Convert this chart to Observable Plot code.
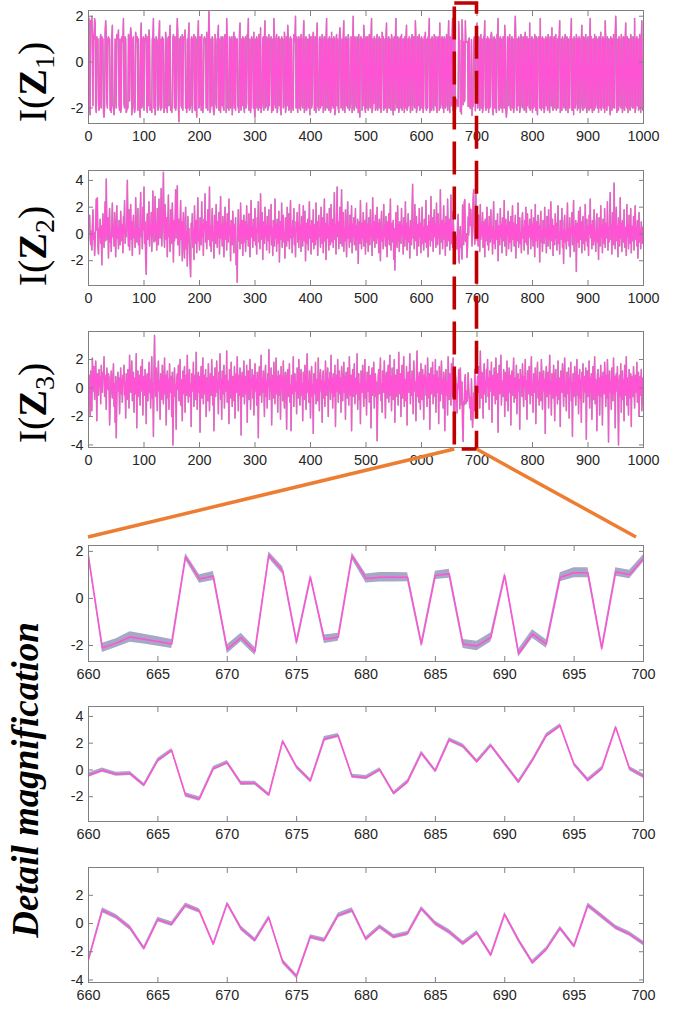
<!DOCTYPE html>
<html><head><meta charset="utf-8">
<script src="https://cdn.jsdelivr.net/npm/d3@7"></script>
<script src="https://cdn.jsdelivr.net/npm/@observablehq/plot@0.6"></script>
<style>
html,body{margin:0;padding:0;background:#fff;}
#wrap{position:relative;width:686px;height:1013px;overflow:hidden;background:#fff;}
#wrap > svg{position:absolute;left:0;margin:0;}
</style></head><body><div id="wrap"></div>
<script>
// ---------------- DATA ----------------
const xTicksFull = [0,100,200,300,400,500,600,700,800,900,1000];
const xTicksDetail = [660,665,670,675,680,685,690,695,700];
const yTicks1 = [-2,0,2];
const yTicks2 = [-2,0,2,4];
const yTicks3 = [-4,-2,0,2];
const yDomain1 = [-2.68, 2.25];
const yDomain2 = [-3.85, 4.74];
const yDomain3 = [-4.18, 3.97];
const seriesLabels = ["1","2","3"];
const detailLabel = "Detail magnification";

// Z1 : samples 1..659
const z1a = [
1.9,-2.1,-2.3,1.8,1.6,2.0,1.1,-1.9,1.2,1.0,1.9,1.7,-2.0,-2.2,1.1,0.9,1.0,-1.8,-2.1,-1.9,
1.0,1.2,-2.0,1.1,0.9,1.0,-2.2,-2.4,-1.9,1.3,1.8,1.1,-1.7,-2.0,1.0,1.1,0.8,1.0,-2.1,-1.8,
-2.2,1.1,1.6,-1.9,-2.0,-2.3,-1.8,1.0,0.9,-2.0,1.2,1.1,1.0,1.4,-1.9,-2.1,1.0,-2.2,-2.0,1.1,
0.9,1.0,1.9,-1.8,-2.0,1.1,1.0,-2.2,-2.1,-1.9,-2.0,1.2,0.8,-1.7,1.0,1.5,1.1,-2.3,-2.0,1.0,
1.1,-1.9,-2.2,-2.0,1.3,1.0,0.9,1.1,-2.1,1.0,-1.8,-2.0,-2.4,1.2,1.7,-2.0,-1.9,1.0,1.1,-2.1,
1.0,0.9,1.2,1.0,-2.0,-2.2,1.1,-1.9,1.4,1.0,-2.1,-2.0,-1.8,-2.2,1.0,1.1,1.9,-2.0,1.0,-2.3,
-1.9,1.1,1.0,0.9,-2.1,-2.0,1.2,1.8,-1.8,-2.1,1.0,-2.0,1.1,1.0,1.0,-2.2,-1.9,-2.0,1.3,0.9,
-2.0,-2.2,1.0,1.1,-1.9,1.0,1.6,-2.1,-2.0,-2.2,-1.8,1.0,1.2,0.9,-2.0,1.1,-2.1,-1.9,1.0,1.9,
1.1,-2.0,-2.6,1.0,0.8,1.1,-1.9,-2.0,1.2,-2.1,1.0,1.1,1.0,1.4,-2.0,-1.8,-2.2,1.0,-2.0,1.1,
1.7,-2.1,-2.0,-1.9,1.0,1.1,-2.2,1.0,0.9,1.2,-2.0,-2.1,1.1,-1.9,-2.4,1.0,1.0,1.8,-2.0,-1.9,
1.1,1.0,-2.1,1.2,-2.0,-2.2,-1.8,1.0,1.1,0.9,1.0,-2.0,1.3,-1.9,-2.1,1.0,2.2,1.1,-2.2,-2.0,
1.0,-1.9,1.1,1.0,-2.1,-2.3,-2.0,1.2,0.9,-1.8,-2.0,1.0,1.1,1.6,-2.1,1.0,-2.0,-2.2,1.1,1.0,
-1.9,1.1,-2.0,-2.1,1.0,1.2,1.0,-2.2,1.9,1.0,-2.0,-1.9,-2.1,1.1,0.8,-2.0,1.0,1.1,-2.3,-1.8,
1.0,1.3,-2.0,1.1,-2.1,1.0,0.9,1.0,-1.9,-2.0,-2.2,1.2,1.7,-2.0,-2.1,1.0,-1.9,1.1,1.0,-2.0,
-2.2,1.0,1.1,-2.0,-1.8,1.2,1.0,1.9,-2.1,-2.0,1.0,-2.2,-1.9,1.1,1.0,0.9,-2.0,1.3,-2.1,-2.4,
1.0,-2.0,1.1,1.0,-1.9,-2.1,1.2,1.0,-2.0,1.5,-2.2,-2.0,-1.8,1.0,1.1,-2.1,1.0,1.8,-2.0,-1.9,
1.1,1.0,-2.1,-2.0,1.2,-1.9,1.0,0.9,1.1,-2.2,-2.0,1.0,-2.1,1.9,1.1,-1.8,-2.0,1.0,1.2,-2.2,
-2.0,1.0,1.1,-1.9,1.0,-2.1,-2.3,1.1,1.0,1.0,-2.0,-1.9,1.3,1.0,-2.2,-2.0,1.1,-1.9,1.6,1.0,
-2.1,-2.0,1.0,1.1,-2.2,1.0,-1.9,-2.0,-2.1,1.2,0.9,1.0,2.0,-2.0,1.1,-1.8,-2.2,1.0,1.1,-2.0,
1.0,-2.1,1.2,1.0,-1.9,-2.0,1.1,1.8,-2.2,-2.0,1.0,1.1,-2.1,-1.9,1.0,0.9,-2.0,1.2,-2.3,1.0,
1.1,-2.0,-1.8,1.0,1.3,1.0,-2.1,-2.0,1.1,-2.2,1.0,1.7,-1.9,-2.0,-2.1,1.0,1.1,-2.0,1.0,-1.9,
1.2,1.0,-2.2,-2.0,1.1,0.9,-2.1,1.0,1.9,-2.0,-1.8,1.0,-2.1,1.1,1.0,-2.2,-2.0,1.3,-1.9,1.0,
-2.0,1.1,1.0,-2.3,-2.1,1.0,1.2,-1.9,1.0,-2.0,-2.2,1.1,1.5,1.0,-2.0,-1.9,1.0,-2.1,1.1,1.8,
-2.0,-2.2,1.0,1.1,-1.9,1.0,-2.0,1.2,1.0,-2.1,-2.0,-1.8,1.1,1.0,-2.2,1.0,2.0,-2.0,-2.1,1.1,
1.0,-1.9,-2.0,1.1,1.0,-2.2,1.2,-2.0,-2.4,1.0,1.1,0.9,-2.1,1.0,-1.9,1.6,1.0,-2.0,-2.2,1.1,
-2.0,1.0,1.1,-2.1,-1.9,1.2,1.0,-2.0,1.1,1.9,-2.2,-2.0,1.0,-1.8,1.1,1.0,-2.1,-2.0,1.0,1.2,
-2.1,-1.9,1.0,1.1,-2.0,1.0,-2.2,-2.0,1.3,1.0,1.1,-2.1,-1.9,1.0,-2.0,1.1,1.7,-2.2,-2.0,1.0,
1.1,-2.0,1.0,-1.9,-2.1,1.2,1.0,-2.0,-2.3,1.0,1.1,-2.1,1.0,1.9,-1.8,-2.0,1.1,1.0,-2.2,-2.0,
1.0,1.1,-2.0,1.2,-2.1,-1.9,1.0,1.0,-2.2,1.1,-2.0,1.0,1.6,-2.1,-2.0,1.0,-1.9,1.1,1.0,-2.2,
-2.0,1.0,1.2,-2.1,1.0,1.1,-1.9,-2.0,1.8,1.0,-2.2,-2.0,1.1,-1.9,1.0,1.2,-2.1,-2.0,1.0,1.1,
-2.0,1.0,-2.2,-1.9,1.1,1.0,1.3,-2.0,-2.1,1.0,-2.0,1.1,1.0,1.9,-2.2,-1.9,1.0,-2.1,1.1,1.0,
-2.0,-2.1,1.2,1.0,-1.9,1.1,-2.0,-2.2,1.0,1.1,1.0,-2.1,1.7,-2.0,-1.8,1.0,1.1,-2.0,1.0,-2.2,
1.1,1.0,-2.0,-1.9,1.2,1.0,-2.1,1.0,1.8,-2.0,-2.2,1.1,1.0,-1.9,1.0,1.9,-2.1,-2.0,1.1
];
// Z1 : samples 660..700 (detail window)
const z1d = [1.8,-2.1,-1.9,-1.64,-1.73,-1.83,-1.94,1.77,0.83,0.95,-2.16,-1.66,-2.26,1.84,1.19,-1.86,0.9,-1.73,-1.65,1.8,0.85,0.9,0.9,0.9,-1.94,0.98,1.05,-1.94,-2.02,-1.66,0.98,-2.33,-1.51,-1.94,0.9,1.09,1.09,-2.12,1.12,1.02,1.7];
const z1s = [0.14,0.20,0.19,0.22,0.21,0.20,0.19,0.14,0.18,0.19,0.19,0.18,0.17,0.14,0.16,0.16,0.12,0.18,0.17,0.14,0.19,0.20,0.20,0.19,0.16,0.18,0.19,0.19,0.20,0.19,0.12,0.17,0.18,0.18,0.19,0.21,0.21,0.16,0.18,0.18,0.16];
// Z1 : samples 701..1000
const z1b = [
-2.0,1.0,1.1,-1.9,-2.1,1.0,1.2,-2.0,1.0,-2.2,-2.0,1.1,1.0,1.8,-1.9,-2.1,1.0,-2.0,1.1,1.0,
-2.2,1.0,-2.0,-1.9,1.1,1.3,1.0,-2.1,-2.3,1.0,1.1,-2.0,1.0,-1.9,-2.2,1.2,1.0,1.9,-2.0,-2.1,
1.0,1.1,-2.0,1.0,-1.8,-2.2,1.1,1.0,-2.0,1.6,1.0,-2.1,-2.4,-2.0,1.1,1.0,-1.9,1.0,1.2,-2.0,
-2.1,1.0,1.1,-2.0,1.0,-2.2,-1.9,1.1,2.0,1.0,-2.0,-2.1,1.0,-1.9,1.1,1.0,-2.2,-2.0,1.2,1.0,
-1.9,-2.0,1.1,1.0,-2.1,1.0,1.3,-2.0,-2.2,1.1,-1.9,1.0,1.0,-2.0,1.7,-2.1,-2.0,1.0,1.1,-2.2,
1.0,-2.0,-1.9,1.2,1.0,-2.1,1.1,-2.0,-2.3,1.0,1.1,1.0,-2.0,1.9,-1.8,-2.1,1.0,1.1,-2.0,1.0,
-2.2,-2.0,1.0,1.1,-1.9,1.0,-2.1,1.2,1.0,-2.0,-2.2,1.1,1.0,-1.9,1.5,-2.0,-2.1,1.0,1.1,-2.0,
1.0,1.2,-2.1,-1.9,1.0,-2.0,1.1,1.0,1.8,-2.2,-2.0,1.0,-2.1,1.1,1.0,-1.9,-2.0,1.0,1.2,-2.1,
-2.0,1.1,1.0,-2.2,1.0,-1.9,-2.0,1.1,1.0,1.9,-2.1,-2.0,1.0,-2.3,1.1,1.0,-2.0,-1.8,1.2,1.0,
-2.1,1.0,-2.0,1.1,1.0,-2.2,-1.9,1.0,1.6,-2.0,-2.1,1.1,1.0,-2.0,1.0,1.2,-1.9,-2.2,1.0,1.1,
-2.0,-2.1,1.0,1.9,-2.0,1.1,-1.9,-2.2,1.0,1.0,-2.1,1.2,-2.0,1.0,1.1,-1.8,-2.0,1.0,-2.2,1.1,
1.0,-2.0,1.3,-2.1,-1.9,1.0,1.1,-2.0,1.0,-2.2,1.8,1.0,-2.0,-2.1,1.1,-1.9,1.0,1.0,-2.0,-2.3,
1.1,1.0,-2.1,1.0,-2.0,1.2,-1.9,-2.0,1.1,2.0,1.0,-2.2,-2.0,1.0,-2.1,1.1,1.0,-1.9,-2.0,1.2,
1.0,-2.2,-2.0,1.1,1.0,-2.1,1.0,1.7,-1.9,-2.0,1.1,-2.2,1.0,1.0,-2.0,-2.1,1.2,1.0,-1.9,-2.0,
1.1,1.0,-2.0,1.9,-2.2,-2.0,1.0,1.1,-1.9,1.0,-2.1,-2.0,1.2,1.0,-2.2,1.0,1.8,-2.0,-2.1,-2.0
];

// Z2 : samples 1..659
const z2a = [
0.9,1.4,-0.3,-0.8,0.2,-1.2,0.5,1.8,-0.4,0.1,-1.6,-0.6,0.8,2.6,0.3,2.7,-0.9,-1.5,0.4,-0.2,
1.1,-0.7,0.6,-2.3,-0.1,1.5,0.2,-1.0,0.7,2.4,-0.5,4.1,0.9,-0.4,1.2,-1.8,0.3,1.9,-0.6,0.0,
-1.3,0.8,2.3,-0.2,0.5,-0.9,1.6,0.1,-1.7,0.6,2.1,-0.3,0.4,-1.1,1.0,0.2,-0.8,1.7,0.3,-0.5,
0.7,-1.4,1.3,0.0,2.5,-0.7,0.4,-0.2,1.1,4.0,0.6,-0.9,1.8,-1.2,0.3,2.2,-0.4,0.9,-1.6,0.5,
1.4,-0.3,0.2,-1.0,2.7,0.8,-0.6,0.1,1.9,-0.8,0.4,-1.5,1.2,3.1,-0.2,0.6,-1.1,2.0,0.3,3.5,
-0.7,0.9,-1.9,-3.0,0.4,1.5,-0.4,0.2,2.4,-0.9,0.7,-0.1,1.6,-1.3,0.5,3.2,0.0,-0.6,1.1,2.8,
-0.5,0.8,-1.2,1.9,0.3,-0.8,2.6,0.6,-0.3,1.3,3.4,-0.9,0.5,1.7,4.6,0.2,-1.0,2.2,0.9,-0.4,
1.2,-1.7,0.6,2.9,-0.2,0.4,-1.3,1.8,0.1,-0.7,2.3,0.5,-2.1,1.0,-0.5,0.7,3.3,-0.3,1.4,3.6,
-0.8,0.2,1.1,-1.6,0.5,2.5,-0.4,0.9,-2.0,0.3,1.6,-0.9,-1.8,0.6,2.0,-1.1,0.2,-2.4,1.3,-0.6,
0.4,-1.5,-2.2,-3.2,0.8,-0.3,1.5,-1.0,0.3,-1.9,2.1,0.0,-0.7,1.0,-1.4,0.6,2.7,-0.5,0.2,-1.2,
1.2,0.3,-0.8,2.4,-0.2,0.7,-1.6,1.1,0.4,3.0,-0.6,0.9,-1.1,0.2,1.8,-0.4,0.5,3.5,-0.9,0.6,
-1.3,0.8,1.9,-0.5,0.1,-1.8,1.4,0.3,-0.7,2.2,0.5,-1.0,0.9,-0.2,1.6,-1.5,0.4,2.8,-0.3,0.7,
-0.9,1.3,0.0,-1.7,0.6,2.0,-0.4,0.8,-1.2,1.5,0.2,-0.6,2.6,-0.1,0.5,-2.0,1.0,0.3,-0.8,1.7,
0.1,-1.4,0.7,-0.3,1.2,-2.3,-1.0,-3.6,0.4,1.8,-0.5,0.6,-1.1,2.3,0.2,-0.7,1.0,-1.6,0.4,1.4,
-0.6,0.9,-1.3,0.3,2.1,-0.4,0.6,-0.9,1.5,0.0,-1.7,0.8,2.5,-0.2,0.5,-1.0,1.1,-0.5,0.3,1.9,
-0.8,0.4,-1.5,1.2,0.1,2.4,-0.6,0.7,-1.1,3.0,0.3,-0.4,1.6,-1.9,0.5,0.9,-0.7,2.0,-0.2,0.6,
-1.2,1.3,0.2,-0.5,1.8,-1.4,0.6,0.0,2.2,-0.8,0.4,-1.6,1.0,0.3,-0.9,2.6,-0.3,0.7,-1.3,1.1,
0.5,-0.7,1.7,-2.1,0.2,0.9,-0.4,2.3,-1.0,0.6,1.4,-0.6,0.1,-1.8,1.2,0.4,-0.9,2.0,0.3,-0.5,
1.5,-1.1,0.7,2.5,-0.3,0.5,-1.4,1.0,-0.2,1.9,-0.8,0.4,-1.7,0.9,0.2,1.6,-0.6,0.8,-1.0,2.2,
-0.4,0.6,-1.3,1.3,0.0,-0.9,2.1,0.5,-0.5,1.7,-2.0,0.3,0.8,-0.7,1.1,-1.2,0.4,2.4,-0.3,0.6,
-1.5,1.0,0.2,-0.6,1.8,-1.1,0.7,0.1,-0.8,2.3,-0.4,0.9,-1.6,0.5,1.4,-0.2,0.3,-1.0,2.0,0.6,
-0.7,1.2,-1.4,0.4,2.6,-0.5,0.8,-1.9,0.2,1.5,-0.3,0.6,-1.2,1.9,0.0,-0.8,2.2,0.4,-0.6,1.1,
-1.0,0.5,3.1,-0.4,0.7,-1.5,1.3,3.5,-0.2,0.9,-1.1,0.3,2.0,-0.7,0.6,3.3,-0.9,0.2,1.6,-1.3,
0.4,-0.5,1.8,0.1,-1.7,0.8,2.4,-0.3,0.5,-1.0,1.4,-0.6,0.2,2.1,-1.4,0.7,-0.2,1.2,-0.8,0.3,
1.9,-1.2,0.6,-0.4,1.1,-2.2,0.3,0.9,-0.7,2.5,0.0,-1.1,0.8,-0.3,1.6,-0.9,0.4,1.0,-1.5,0.2,
2.3,-0.6,0.7,-1.3,1.2,0.1,-0.8,1.8,-0.2,0.5,-1.6,2.7,0.3,-0.5,0.9,-1.0,1.4,0.0,-0.7,2.0,
-0.3,0.8,-1.4,1.1,0.4,-2.0,0.6,1.7,-0.5,0.2,-1.1,2.2,-0.2,0.7,-0.9,1.3,0.3,-1.7,0.9,-0.4,
1.5,-0.8,0.5,2.6,-1.2,0.1,0.8,-0.6,1.0,-1.9,0.4,-2.7,-0.3,1.6,0.2,-1.0,2.1,-0.5,0.7,-1.3,
0.9,0.3,-0.7,1.9,-0.1,0.6,-1.5,1.2,0.4,-0.9,2.4,-0.4,0.8,-1.2,0.0,1.5,-0.6,0.5,-1.8,1.0,
0.2,-0.8,1.7,3.7,-0.3,0.6,-1.1,2.2,0.1,-0.5,1.3,-1.6,0.7,0.3,-0.9,1.9,-0.2,0.8,-1.4,0.4,
2.0,-0.7,0.5,-1.2,1.1,0.0,-0.6,2.5,-1.0,0.6,0.2,-1.7,1.4,-0.4,0.9,-0.9,2.8,0.3,-0.5,1.2,
-1.3,0.4,1.8,-0.2,0.7,-1.0,2.3,0.1,-0.8,1.5,-0.3,0.6,-1.5,3.3,0.2,-0.6,1.0,-1.1,0.5,2.1,
-0.4,0.8,-1.6,1.3,0.0,-0.9,2.6,0.4,-0.5,1.1,-1.2,0.3,2.9,-0.7,0.6,-1.0,1.7,0.2,-0.3
];
const z2d = [-0.39,-0.02,-0.32,-0.27,-1.13,0.72,1.46,-1.87,-2.17,0.1,0.55,-1.0,-1.0,-1.87,2.15,0.22,-0.81,2.32,2.57,-0.47,-0.57,0.02,-1.75,-0.89,1.26,-0.07,2.25,1.78,0.64,1.83,0.47,-0.89,0.72,2.57,3.31,0.42,-0.76,0.1,3.19,0.1,-0.47];
const z2s = [0.17,0.16,0.15,0.15,0.14,0.16,0.15,0.17,0.16,0.15,0.15,0.16,0.15,0.14,0.13,0.15,0.15,0.17,0.16,0.15,0.16,0.15,0.14,0.15,0.15,0.14,0.15,0.16,0.15,0.14,0.15,0.15,0.14,0.16,0.15,0.15,0.16,0.15,0.13,0.16,0.17];
const z2b = [
0.5,-0.9,1.4,0.2,-1.3,2.2,-0.4,0.7,-0.1,1.6,-1.0,0.3,0.9,-1.7,1.1,-0.5,0.4,2.0,-0.8,0.6,
-1.2,1.3,0.0,-0.6,1.8,-0.3,0.5,-1.5,0.8,2.4,-0.7,0.2,-1.1,1.0,0.4,-0.4,1.5,-2.0,0.6,0.1,
-0.8,1.9,-0.2,0.7,-1.4,1.2,0.3,-0.5,2.5,-0.9,0.4,1.1,-1.6,0.6,-0.1,1.7,-1.1,0.2,0.9,-0.6,
1.3,-1.3,0.5,2.1,-0.4,0.8,-0.9,0.0,1.4,-1.8,0.3,0.7,-0.5,2.3,-1.0,0.4,1.2,-0.7,0.1,-1.4,
0.9,1.6,-0.3,0.5,-1.2,1.0,-0.6,2.0,0.2,-0.8,1.5,-1.5,0.6,-0.2,1.1,0.3,-1.1,1.8,-0.4,0.7,
-0.9,1.2,0.1,-1.7,2.2,-0.5,0.4,0.9,-1.0,1.4,-0.3,0.6,-2.1,0.8,1.7,-0.6,0.2,-1.3,1.0,0.5,
-0.7,2.0,-0.2,0.3,-1.4,1.3,0.7,-0.9,1.8,-0.4,0.5,-1.1,2.4,0.0,-0.5,1.1,-1.6,0.6,0.2,-0.8,
1.5,-0.3,0.8,-1.2,0.4,2.1,-0.7,0.1,-1.5,1.0,0.6,-0.4,1.9,-1.0,0.3,-2.2,0.9,1.4,-0.6,0.2,
-1.1,0.7,2.3,-0.5,0.4,-0.9,1.2,-1.7,0.5,0.0,1.6,-0.8,0.3,2.5,-1.3,0.6,-0.2,1.0,-2.8,0.4,
0.8,-0.6,1.7,-1.0,0.2,2.0,-0.4,0.9,-1.4,0.5,1.3,-0.7,0.1,-1.2,2.2,0.3,-0.5,1.1,-0.9,0.6,
-1.6,1.4,0.0,2.6,-0.3,0.7,-1.1,1.0,0.4,-0.8,1.8,-0.5,0.2,-1.3,0.9,1.5,-0.6,0.3,-1.9,1.2,
0.5,-0.9,2.1,-0.2,0.6,-1.4,1.1,0.1,-0.7,1.9,-1.0,0.4,0.8,-0.3,2.4,-1.2,0.5,-0.6,1.3,3.1,
-0.4,0.7,-1.5,1.6,0.2,-0.8,3.8,0.9,-1.1,0.3,2.0,-0.5,0.6,-1.7,1.2,0.0,-0.9,2.7,-0.3,0.8,
-1.3,1.0,0.4,-0.6,1.8,-1.0,0.5,0.1,-1.6,2.2,-0.2,0.7,-1.1,1.4,0.3,-0.7,1.9,-1.4,0.6,0.2,
-0.5,1.3,-1.2,0.8,2.1,-0.4,0.5,-0.9,1.0,-1.8,0.3,1.6,-0.6,0.4,-1.1,0.9,0.2,-0.7,0.5,-0.4
];

// Z3 : samples 1..659
const z3a = [
0.9,-0.4,-2.0,1.2,0.3,-1.6,2.1,0.6,-0.2,1.5,-0.8,0.4,1.9,0.2,-2.3,1.0,0.7,-0.5,1.3,0.1,
0.8,-1.1,1.6,0.4,-0.3,1.1,0.6,2.2,-0.6,0.9,0.3,-1.5,1.4,0.5,-0.1,1.0,0.7,-2.6,-1.2,0.4,
1.2,0.0,-0.7,0.6,1.7,-1.3,0.3,-2.4,0.8,-3.5,-0.9,0.5,1.1,-0.2,0.7,-1.8,0.2,1.4,-0.4,0.6,
-1.0,0.9,0.3,1.6,-0.5,0.4,-2.1,1.0,0.2,-0.8,1.3,0.6,-1.4,2.3,0.1,-0.3,0.8,1.9,-0.9,0.5,
1.1,-1.7,0.4,0.7,-0.4,2.4,-2.8,0.3,1.2,-0.6,0.9,0.1,-1.2,1.5,0.5,-0.2,2.0,-1.9,0.6,0.8,
-0.5,1.3,0.2,-2.5,0.7,1.0,-0.9,0.4,1.8,-0.3,0.6,-1.4,0.9,2.2,-0.7,0.3,-3.4,1.1,3.7,0.5,
-0.6,1.4,0.0,-1.6,0.8,1.9,-0.2,0.5,-2.2,1.0,0.3,-0.8,1.6,0.7,-1.1,0.2,2.1,-0.4,0.9,-2.6,
0.4,1.2,-0.7,0.6,-1.5,1.7,0.1,-0.3,0.8,-2.0,1.1,-4.0,-1.3,0.5,1.4,-0.6,0.2,-2.9,0.7,1.0,
-0.1,1.6,-0.9,0.4,2.0,-1.2,0.6,0.3,-2.3,1.2,-0.4,0.8,1.5,-1.7,0.2,0.9,-0.5,2.3,0.1,-1.0,
0.7,1.3,-0.6,0.3,-2.7,1.0,0.5,-0.2,1.8,-1.3,0.4,0.9,-0.8,2.5,0.0,-1.5,0.6,1.1,-0.3,0.8,
-3.1,0.4,1.5,-0.7,0.2,2.1,-1.1,0.6,0.9,-0.4,1.3,-2.0,0.3,0.7,-0.9,1.7,0.5,-1.6,0.1,1.0,
-0.5,2.0,0.4,-1.2,0.8,-3.0,0.2,1.4,-0.6,0.7,1.9,-0.3,0.5,-1.8,1.1,0.0,2.4,-0.8,0.6,-2.2,
1.2,0.3,-0.4,1.6,-1.4,0.7,0.9,-0.2,2.6,-1.0,0.5,0.1,-2.5,1.3,0.6,-0.7,1.8,0.2,-1.3,0.8,
0.4,-0.9,1.5,-2.1,0.6,1.0,-0.3,2.2,0.1,-1.6,0.9,-0.5,1.4,0.3,-3.3,0.7,1.1,-0.6,0.5,1.9,
-1.1,0.2,0.8,-0.4,1.6,-2.4,0.5,1.2,-0.8,0.3,2.0,-1.5,0.6,0.0,1.3,-0.7,0.9,-1.9,0.4,1.7,
-0.2,0.6,-1.2,1.1,0.3,-3.5,0.8,1.5,-0.5,0.2,2.3,-1.0,0.7,-0.3,1.2,0.4,-2.0,0.9,1.6,-0.6,
0.5,-1.4,1.0,0.1,2.7,-0.8,0.6,-0.2,1.4,-2.6,0.3,0.9,-0.7,1.8,0.2,-1.1,0.5,2.1,-0.4,0.8,
-1.7,1.2,0.4,-0.5,0.9,-2.2,1.5,0.0,0.7,-0.9,1.9,0.3,-1.4,0.6,1.1,-0.3,-2.9,0.8,1.3,-0.6,
0.4,1.7,-1.0,0.2,-3.0,0.9,0.5,-0.4,2.2,-1.3,0.7,1.0,-0.2,0.4,-1.8,1.4,0.6,-0.7,2.0,0.1,
-1.2,0.8,1.3,-0.5,0.3,-2.3,1.1,0.6,-0.8,1.6,0.2,-1.5,0.9,2.4,-0.3,0.5,-1.0,1.2,0.4,-2.1,
0.7,1.5,-0.6,0.2,-3.2,1.0,0.8,-0.4,1.8,-1.1,0.3,0.6,-0.9,2.1,0.1,-1.6,0.7,1.3,-0.2,0.5,
-2.4,0.9,1.2,-0.7,0.4,-1.3,1.9,0.2,-0.5,0.8,1.4,-2.0,0.6,0.0,1.1,-0.8,2.3,-0.3,0.7,-1.4,
1.0,0.3,-0.6,1.6,-2.7,0.5,0.9,-0.2,2.0,-1.0,0.4,1.2,-0.4,0.7,-1.7,1.5,0.1,-0.9,0.6,1.8,
-0.3,0.8,-2.2,1.1,0.4,-0.7,1.4,0.2,-1.2,2.2,0.6,-0.5,0.9,-3.0,0.3,1.3,-0.6,0.5,1.7,-1.1,
0.2,0.7,-0.4,2.4,-1.5,0.6,1.0,-0.8,0.3,-2.5,1.2,0.5,-0.3,1.6,0.0,-1.3,0.8,2.0,-0.7,0.4,
-1.9,1.1,0.6,-0.2,1.5,-1.0,0.3,0.9,-2.8,0.7,1.4,-0.5,0.2,1.8,-1.4,0.5,1.0,-0.6,0.4,-3.7,
-1.2,0.8,1.3,-0.4,0.6,2.1,-0.9,0.3,-1.7,1.2,0.5,-0.3,1.9,0.1,-2.1,0.7,1.1,-0.7,0.4,1.6,
-1.0,0.2,2.3,-0.5,0.8,-1.6,1.4,0.3,-0.8,0.6,2.0,-2.4,0.9,0.0,-0.6,1.3,0.5,-1.2,2.5,0.2,
-0.4,1.0,-2.0,0.7,1.6,-0.7,0.4,2.2,-1.3,0.6,0.1,-0.9,1.5,-2.6,0.8,1.1,-0.3,0.5,2.4,-1.1,
0.6,-0.5,1.2,0.3,-1.8,1.9,0.7,-0.2,0.4,-2.3,1.4,2.6,-0.6,0.8,-1.0,1.1,0.2,-1.5,1.7,0.5,
-0.8,1.3,0.4,-2.2,0.9,0.1,1.6,-0.5,0.7,-1.3,2.1,0.3,-0.7,1.0,-2.9,0.6,1.4,-0.4,0.2,1.8,
-1.1,0.5,0.9,-0.6,2.0,-1.7,0.4,1.2,-0.3,0.7,-2.5,1.5,0.1,-0.9,0.8,1.9,-0.4,0.6,-1.4,1.1,
0.3,-3.0,0.7,1.3,-0.5,0.4,-1.9,2.2,0.6,-0.8,1.0,0.2,-1.2,1.7,0.5,-0.6,2.1,-2.0,0.4
];
const z3d = [-2.58,0.94,0.47,-0.31,-1.76,0.28,-0.05,1.29,0.89,-1.46,1.41,-0.35,-1.18,0.42,-2.7,-3.76,-0.94,-1.18,0.58,0.94,-1.1,-0.24,-0.94,-0.71,1.06,0.0,-0.59,-1.41,-0.66,-2.23,0.65,-1.18,-2.77,-1.83,-0.35,-1.6,1.29,0.51,-0.28,-0.75,-1.41];
const z3s = [0.16,0.18,0.17,0.17,0.15,0.16,0.17,0.17,0.16,0.14,0.14,0.17,0.16,0.14,0.17,0.16,0.15,0.16,0.17,0.17,0.16,0.15,0.16,0.15,0.15,0.16,0.17,0.16,0.15,0.14,0.14,0.16,0.16,0.15,0.15,0.15,0.17,0.17,0.16,0.16,0.16];
const z3b = [
0.8,-0.3,1.5,0.2,-1.4,2.6,0.6,-0.7,1.1,0.3,-2.1,0.9,1.7,-0.4,0.5,-1.0,1.3,0.1,2.0,-0.6,
0.7,-1.5,1.2,0.4,-0.2,1.8,-2.4,0.6,0.9,-0.5,1.4,0.2,-1.1,2.1,0.5,-0.8,1.0,-3.1,0.3,1.6,
-0.4,0.8,2.3,-1.2,0.5,0.1,-0.6,1.3,0.7,-2.0,1.1,0.4,-0.9,1.9,0.2,-1.6,0.6,1.4,-0.3,0.9,
-2.6,0.5,1.2,-0.5,0.8,2.1,-1.0,0.3,0.7,-0.7,1.6,-1.8,0.4,1.0,-0.2,0.6,-2.9,1.3,0.2,0.9,
-0.6,1.7,0.4,-1.3,0.8,0.1,2.0,-0.8,0.5,-2.2,1.2,0.6,-0.4,1.5,0.3,-1.1,0.9,2.2,-0.5,0.4,
-1.7,1.0,0.6,-0.3,1.4,-2.5,0.2,0.8,1.8,-0.7,0.5,-1.2,1.1,0.3,-0.9,2.0,0.7,-1.5,0.4,1.2,
-0.2,0.6,-3.2,0.9,1.5,-0.6,0.3,1.1,-1.4,0.7,2.3,-0.4,0.5,-1.9,1.0,0.2,-0.7,1.6,0.4,-2.3,
0.8,1.3,-0.5,0.6,-1.1,1.9,0.1,-0.8,0.7,-2.7,1.2,0.4,-0.3,1.7,0.5,-1.3,0.9,2.1,-0.6,0.3,
-1.6,1.1,0.6,-0.4,1.4,-2.1,0.7,0.2,1.8,-0.9,0.4,-3.4,1.0,0.5,-0.6,1.5,0.3,-1.2,0.8,2.0,
-0.5,0.9,-1.8,0.4,1.3,-0.7,0.6,-2.4,1.1,0.2,1.7,-1.0,0.5,0.8,-0.3,1.4,-3.6,0.6,1.2,-0.6,
0.3,1.9,-1.4,0.7,-0.2,1.0,-2.2,0.5,1.5,-0.8,0.4,2.2,-1.1,0.6,0.1,-3.0,0.9,1.3,-0.5,0.7,
-1.9,0.4,1.6,-0.6,0.8,-2.6,1.1,0.3,-0.4,1.8,0.6,-1.3,0.9,-0.7,2.0,0.2,-3.8,0.7,1.2,-0.3,
0.5,-1.5,1.4,0.1,-0.9,2.1,-0.4,0.8,-2.8,0.6,1.0,-0.2,1.5,-1.1,-4.0,0.4,0.9,-0.6,1.7,-1.7,
0.3,1.2,-0.8,0.6,-2.3,1.6,0.4,-0.5,2.2,-1.2,0.7,0.1,-1.9,1.3,0.5,-0.7,1.0,-2.7,0.8,0.4,
-0.6,1.5,0.2,-1.4,0.9,0.5,-0.3,1.8,-1.0,0.6,1.1,-2.0,0.4,0.8,-0.5,1.3,-1.6,0.7,0.2,-1.2
];

// ---------------- BUILD ----------------
function fullSeries(a, d, b) {
  const rows = [];
  a.forEach((v, i) => rows.push({x: 660 - a.length + i, v}));
  d.forEach((v, i) => rows.push({x: 660 + i, v}));
  b.forEach((v, i) => rows.push({x: 701 + i, v}));
  return rows;
}
function detailSeries(d, s) {
  return d.map((v, i) => ({x: 660 + i, v, lo: v - s[i], hi: v + s[i]}));
}

const PINK = "#ff52d4";
const GREY = "#a0a0a0";
const BAND = "#a7a7c6";
const AXIS = "#808080";
const TEXT = "#262626";
const W = 686, ML = 88, MR = 43, MT = 6, MB = 30;
const fmt = d => String(d);

const wrap = document.getElementById("wrap");

function makePanel({rows, detail, xDomain, xTicks, yDomain, yTicks, h, top}) {
  const marks = [];
  if (detail) {
    marks.push(Plot.areaY(rows, {x: "x", y1: "lo", y2: "hi", fill: BAND, fillOpacity: 1}));
    marks.push(Plot.line(rows, {x: "x", y: "v", stroke: PINK, strokeWidth: 1.5}));
  } else {
    marks.push(Plot.line(rows, {x: "x", y: "v", stroke: GREY, strokeWidth: 1.6}));
    marks.push(Plot.line(rows, {x: "x", y: "v", stroke: PINK, strokeWidth: 1.1}));
  }
  const p = Plot.plot({
    width: W, height: h + MT + MB,
    marginLeft: ML, marginRight: MR, marginTop: MT, marginBottom: MB,
    style: {fontFamily: "'Liberation Sans', Arial, sans-serif", fontSize: "14.4px", color: TEXT, background: "transparent", overflow: "visible"},
    x: {domain: xDomain},
    y: {domain: yDomain},
    clip: true,
    marks: [
      ...marks,
      Plot.frame({stroke: AXIS, strokeWidth: 1}),
      Plot.axisX(xTicks, {anchor: "bottom", tickSize: -5, tickFormat: () => "", label: null, stroke: AXIS}),
      Plot.axisX(xTicks, {anchor: "top", tickSize: -5, tickFormat: () => "", label: null, stroke: AXIS}),
      Plot.axisX(xTicks, {anchor: "bottom", tickSize: 0, tickPadding: 7, tickFormat: fmt, label: null, fill: TEXT}),
      Plot.axisY(yTicks, {anchor: "left", tickSize: -5, tickFormat: () => "", label: null, stroke: AXIS}),
      Plot.axisY(yTicks, {anchor: "right", tickSize: -5, tickFormat: () => "", label: null, stroke: AXIS}),
      Plot.axisY(yTicks, {anchor: "left", tickSize: 0, tickPadding: 5, tickFormat: fmt, label: null, fill: TEXT})
    ]
  });
  p.style.position = "absolute";
  p.style.top = (top - MT) + "px";
  p.style.left = "0px";
  wrap.appendChild(p);
  return p;
}

const p1 = makePanel({rows: fullSeries(z1a, z1d, z1b), detail: false, xDomain: [0, 1000], xTicks: xTicksFull, yDomain: yDomain1, yTicks: yTicks1, h: 113, top: 10});
const p2 = makePanel({rows: fullSeries(z2a, z2d, z2b), detail: false, xDomain: [0, 1000], xTicks: xTicksFull, yDomain: yDomain2, yTicks: yTicks2, h: 115, top: 170});
const p3 = makePanel({rows: fullSeries(z3a, z3d, z3b), detail: false, xDomain: [0, 1000], xTicks: xTicksFull, yDomain: yDomain3, yTicks: yTicks3, h: 116, top: 331});
const p4 = makePanel({rows: detailSeries(z1d, z1s), detail: true, xDomain: [660, 700], xTicks: xTicksDetail, yDomain: yDomain1, yTicks: yTicks1, h: 116, top: 545});
const p5 = makePanel({rows: detailSeries(z2d, z2s), detail: true, xDomain: [660, 700], xTicks: xTicksDetail, yDomain: yDomain2, yTicks: yTicks2, h: 115, top: 706});
const p6 = makePanel({rows: detailSeries(z3d, z3s), detail: true, xDomain: [660, 700], xTicks: xTicksDetail, yDomain: yDomain3, yTicks: yTicks3, h: 115, top: 867});

// ---------------- OVERLAY ----------------
const ov = d3.select(wrap).append("svg")
  .attr("width", W).attr("height", 1013)
  .style("position", "absolute").style("top", "0px").style("left", "0px")
  .style("pointer-events", "none");

const sx = p1.scale("x");
const rx0 = sx.apply(660), rx1 = sx.apply(700);
const rTop = 3, rBot = 449;
ov.append("rect")
  .attr("x", rx0).attr("y", rTop).attr("width", rx1 - rx0).attr("height", rBot - rTop)
  .attr("fill", "none").attr("stroke", "#c00000").attr("stroke-width", 3.6)
  .attr("stroke-dasharray", "33,12");

const dx = p4.scale("x");
const bx0 = dx.apply(660), bx1 = dx.apply(700) - 7, bY = 537;
ov.append("line").attr("x1", rx0).attr("y1", rBot).attr("x2", bx0).attr("y2", bY)
  .attr("stroke", "#ed7d31").attr("stroke-width", 3.5);
ov.append("line").attr("x1", rx1).attr("y1", rBot).attr("x2", bx1).attr("y2", bY)
  .attr("stroke", "#ed7d31").attr("stroke-width", 3.5);

const labelY = [82, 246, 403];
seriesLabels.forEach((sub, i) => {
  const t = ov.append("text")
    .attr("transform", `translate(46,${labelY[i]}) rotate(-90)`)
    .attr("text-anchor", "middle")
    .style("font-family", "'Liberation Serif','Times New Roman',serif")
    .style("font-size", "40px").attr("fill", "#000");
  t.append("tspan").text("I(");
  t.append("tspan").attr("font-weight", "bold").text("Z");
  t.append("tspan").attr("font-size", "28px").attr("dy", 8).text(sub);
  t.append("tspan").attr("dy", -8).text(")");
});

ov.append("text")
  .attr("transform", "translate(38,780) rotate(-90)")
  .attr("text-anchor", "middle")
  .style("font-family", "'Liberation Serif','Times New Roman',serif")
  .style("font-size", "37px").style("font-weight", "bold").style("font-style", "italic")
  .attr("fill", "#000")
  .text(detailLabel);
</script>
</body></html>
